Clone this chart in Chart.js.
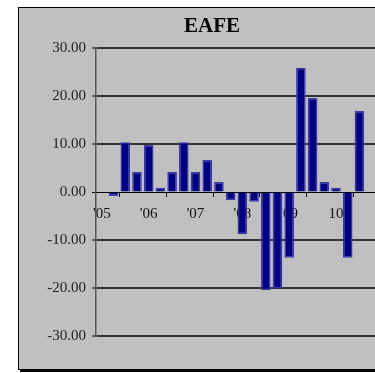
<!DOCTYPE html>
<html lang="en">
<head>
    <meta charset="UTF-8">
    <title>EAFE</title>
    <style>
        html, body { margin: 0; padding: 0; background: #fff; overflow: hidden; width: 375px; height: 373px; }
        #box { position: absolute; left: 18px; top: 7px; width: 386px; height: 361px;
               background: #c0c0c0; border: 1px solid #000; box-shadow: 2px 2px 0 #000; }
        canvas { display: block; }
    </style>
    <script src="https://cdn.jsdelivr.net/npm/chart.js"></script>
</head>
<body>
    <div id="box"><canvas id="eafe" width="386" height="361"></canvas></div>

    <script>
        // quarterly returns, '05 Q1 .. '10 Q4
        const quarters = ["'05", "", "", "", "'06", "", "", "", "'07", "", "", "",
                          "'08", "", "", "", "'09", "", "", "", "10", "", "", ""];
        const returns = [null, -0.8, 10.4, 4.2, 9.8, 0.9, 4.2, 10.4, 4.2, 6.7, 2.1, -1.7,
                         -8.8, -2.0, -20.4, -20.1, -13.7, 25.9, 19.6, 2.1, 0.9, -13.7, 16.9, null];
        const yTicks = [-30, -20, -10, 0, 10, 20, 30];

        const serif = "'Liberation Serif', 'Times New Roman', serif";

        new Chart(document.getElementById('eafe'), {
            type: 'bar',
            data: {
                labels: quarters,
                datasets: [{
                    data: returns,
                    backgroundColor: '#000080',
                    borderColor: '#3838a8',
                    borderWidth: 1.5,
                    barPercentage: 0.82,
                    categoryPercentage: 1
                }]
            },
            options: {
                responsive: false,
                animation: false,
                devicePixelRatio: 1,
                layout: { padding: { bottom: 33 } },
                plugins: {
                    legend: { display: false },
                    tooltip: { enabled: false },
                    title: {
                        display: true,
                        text: 'EAFE',
                        color: '#000',
                        font: { family: serif, size: 21, weight: 'bold' },
                        padding: { top: 6, bottom: 9 }
                    }
                },
                scales: {
                    x: {
                        position: { y: 0 },
                        offset: true,
                        border: { color: '#000', width: 1 },
                        grid: {
                            offset: true,
                            drawOnChartArea: false,
                            drawTicks: true,
                            tickLength: 4,
                            color: ctx => (ctx.index % 4 === 2 ? '#000' : 'rgba(0,0,0,0)')
                        },
                        ticks: {
                            autoSkip: false,
                            maxRotation: 0,
                            padding: 9,
                            color: '#111',
                            font: { family: serif, size: 15 }
                        }
                    },
                    y: {
                        min: -30,
                        max: 30,
                        afterBuildTicks: scale => { scale.ticks = yTicks.map(v => ({ value: v })); },
                        afterFit: scale => { scale.width = 77; },
                        border: { color: '#555', width: 1.5 },
                        grid: {
                            color: ctx => (ctx.tick && ctx.tick.value === 0 ? '#000' : '#333'),
                            lineWidth: ctx => (ctx.tick && ctx.tick.value === 0 ? 1 : 2),
                            tickLength: 4,
                            tickColor: '#000',
                            tickWidth: 1
                        },
                        ticks: {
                            padding: 6,
                            color: '#222',
                            font: { family: serif, size: 15 },
                            callback: v => v.toFixed(2)
                        }
                    },
                    pad: {
                        type: 'linear',
                        position: 'right',
                        afterFit: scale => { scale.width = 28; },
                        border: { display: false },
                        grid: { display: false },
                        ticks: { display: false }
                    }
                }
            }
        });
    </script>
</body>
</html>
